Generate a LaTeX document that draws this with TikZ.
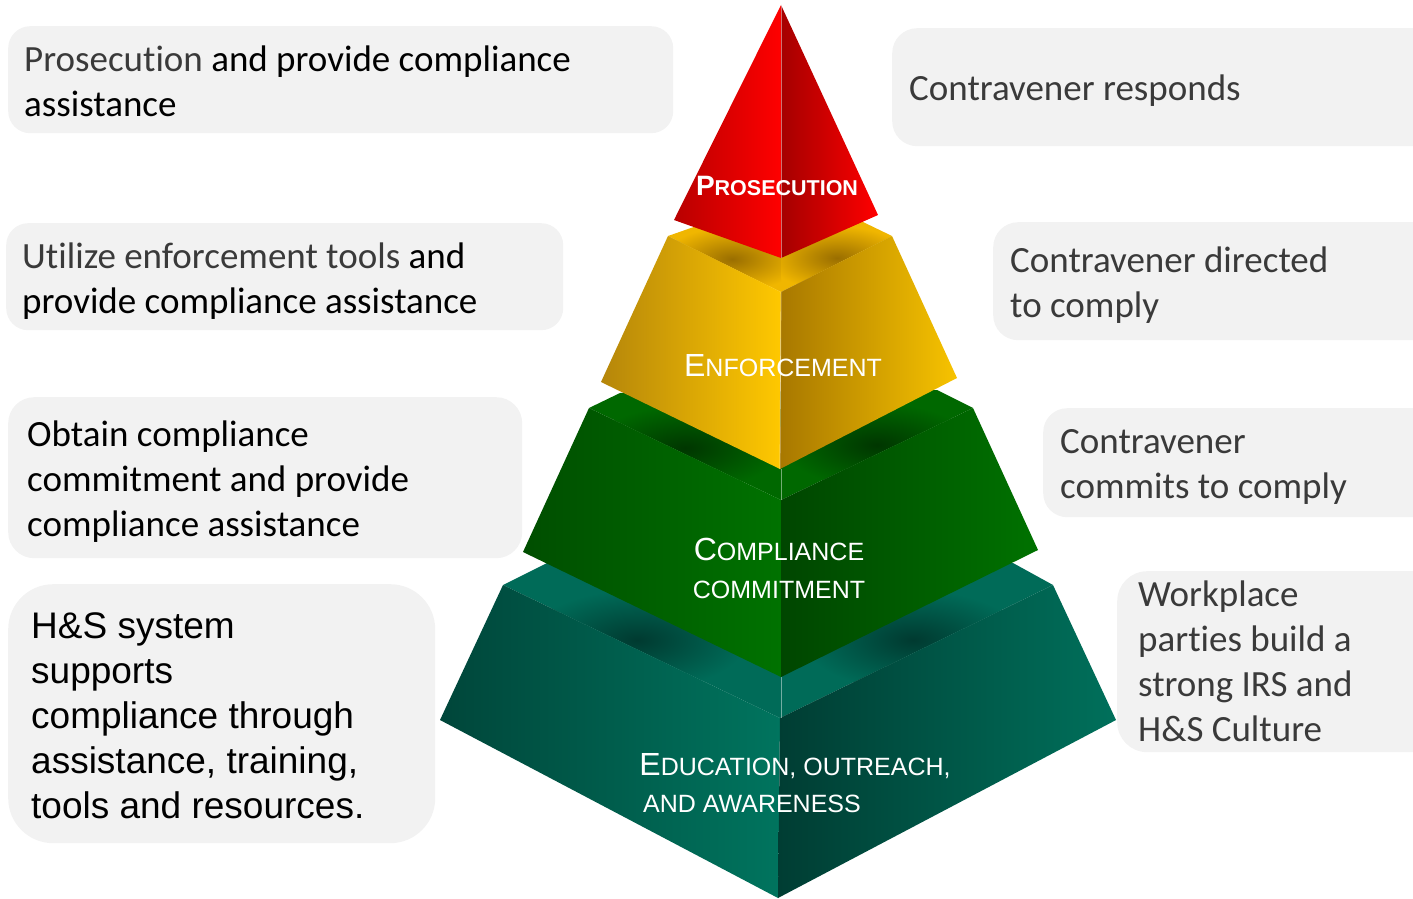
\documentclass[tikz,border=0pt]{standalone}
\usepackage{fontspec}
\setmainfont{Carlito}[Ligatures={NoCommon}]
\newfontfamily\arialf{Liberation Sans}
\definecolor{boxgray}{HTML}{F2F2F2}
\definecolor{txtgray}{HTML}{3A3A3A}
\definecolor{redA}{HTML}{B80000}
\definecolor{redB}{HTML}{FF0000}
\definecolor{redC}{HTML}{A50000}
\definecolor{redD}{HTML}{FF0000}
\definecolor{yelA}{HTML}{B5860A}
\definecolor{yelB}{HTML}{FFC800}
\definecolor{yelC}{HTML}{A87800}
\definecolor{yelD}{HTML}{F7C300}
\definecolor{yelL}{HTML}{F0B600}
\definecolor{yelS}{HTML}{9A6E00}
\definecolor{grnA}{HTML}{004E00}
\definecolor{grnB}{HTML}{007200}
\definecolor{grnC}{HTML}{004600}
\definecolor{grnD}{HTML}{007200}
\definecolor{grnL}{HTML}{006800}
\definecolor{grnS}{HTML}{003600}
\definecolor{tealA}{HTML}{00463A}
\definecolor{tealB}{HTML}{00745E}
\definecolor{tealC}{HTML}{003D33}
\definecolor{tealD}{HTML}{00705B}
\definecolor{tealL}{HTML}{006B58}
\definecolor{tealS}{HTML}{003A30}
\newcommand{\pcap}[2]{{\fontsize{32}{32}\selectfont #1}{\fontsize{25}{25}\selectfont #2}}
\newcommand{\pcapb}[2]{{\fontsize{28}{28}\selectfont #1}{\fontsize{21.5}{21.5}\selectfont #2}}
\begin{document}
\begin{tikzpicture}[x=1pt,y=-1pt,
  boxnode/.style={fill=boxgray, draw=none, anchor=north west, inner sep=0pt},
  boxtext/.style={anchor=base west, align=left, inner sep=0pt, font=\fontsize{37}{45}\selectfont},
  lbl/.style={anchor=base, inner sep=0pt, text=white, font=\arialf},
  ridge/.style={draw=white, draw opacity=0.45, line width=0.8pt}]
\useasboundingbox (0,0) rectangle (1413,899);

% ---------- text boxes ----------
\begin{scope}
\clip (0,0) rectangle (1413,899);
\node[boxnode, rounded corners=22pt, minimum width=665pt, minimum height=107pt] (b1) at (8,26) {};
\node[boxnode, rounded corners=22pt, minimum width=557pt, minimum height=107pt] (b2) at (6,223) {};
\node[boxnode, rounded corners=26pt, minimum width=514pt, minimum height=161pt] (b3) at (8,397) {};
\node[boxnode, rounded corners=45pt, minimum width=427pt, minimum height=259pt] (b4) at (8,584) {};
\node[boxnode, rounded corners=25pt, minimum width=560pt, minimum height=118pt] (b5) at (892,28) {};
\node[boxnode, rounded corners=25pt, minimum width=460pt, minimum height=118pt] (b6) at (993,222) {};
\node[boxnode, rounded corners=24pt, minimum width=410pt, minimum height=109pt] (b7) at (1043,408) {};
\node[boxnode, rounded corners=30pt, minimum width=340pt, minimum height=181pt] (b8) at (1117,571) {};
\end{scope}

% (base anchor = baseline of the last line)
\node[boxtext] (t1) at (24,116) {{\color{txtgray}Prosecution} and provide compliance\\assistance};
\node[boxtext] (t2) at (22,313) {{\color{txtgray}Utilize enforcement tools} and\\provide compliance assistance};
\node[boxtext] (t3) at (27,536) {Obtain compliance\\commitment and provide\\compliance assistance};
\node[boxtext, font=\arialf\fontsize{37}{45}\selectfont] (t4) at (31,818) {H\&S system\\supports\\compliance through\\assistance, training,\\tools and resources.};
\node[boxtext, text=txtgray] (t5) at (909,100) {Contravener responds};
\node[boxtext, text=txtgray] (t6) at (1010,317) {Contravener directed\\to comply};
\node[boxtext, text=txtgray] (t7) at (1060,498) {Contravener\\commits to comply};
\node[boxtext, text=txtgray] (t8) at (1138,741) {Workplace\\parties build a\\strong IRS and\\H\&S Culture};

% ---------- teal tier ----------
\fill[tealL] (503,585) -- (547,563) -- (1013,563) -- (1053,585) -- (780,718) -- cycle;
\begin{scope}
\clip (503,585) -- (547,563) -- (780,563) -- (780,718) -- cycle;
\shade[inner color=tealS, outer color=tealL] (637,640) ellipse [x radius=110, y radius=50];
\end{scope}
\begin{scope}
\clip (780,563) -- (1013,563) -- (1053,585) -- (780,718) -- cycle;
\shade[inner color=tealS, outer color=tealL] (913,640) ellipse [x radius=110, y radius=50];
\end{scope}
\shade[left color=tealA, right color=tealB] (503,585) -- (780,718) -- (778,898) -- (440,720) -- cycle;
\shade[left color=tealC, right color=tealD] (780,718) -- (1053,585) -- (1116,720) -- (778,898) -- cycle;
\draw[ridge] (781,677) -- (781,718);

% ---------- green tier ----------
\fill[grnL] (589,408) -- (620,393) -- (937,390) -- (973,408) -- (781,500) -- cycle;
\begin{scope}
\clip (589,408) -- (620,393) -- (781,393) -- (781,500) -- cycle;
\shade[inner color=grnS, outer color=grnL] (685,448) ellipse [x radius=95, y radius=42];
\end{scope}
\begin{scope}
\clip (781,390) -- (937,390) -- (973,408) -- (781,500) -- cycle;
\shade[inner color=grnS, outer color=grnL] (877,445) ellipse [x radius=95, y radius=42];
\end{scope}
\shade[left color=grnA, right color=grnB] (589,408) -- (781,500) -- (781,677) -- (523,552) -- cycle;
\shade[left color=grnC, right color=grnD] (781,500) -- (973,408) -- (1038,550) -- (781,677) -- cycle;
\draw[ridge] (781,469) -- (781,500);

% ---------- yellow tier ----------
\fill[yelL] (668,236) -- (708,222) -- (863,222) -- (892,236) -- (781,292) -- cycle;
\begin{scope}
\clip (668,236) -- (708,222) -- (781,222) -- (781,292) -- cycle;
\shade[inner color=yelS, outer color=yelL] (732,259) ellipse [x radius=70, y radius=32];
\end{scope}
\begin{scope}
\clip (781,222) -- (863,222) -- (892,236) -- (781,292) -- cycle;
\shade[inner color=yelS, outer color=yelL] (837,258) ellipse [x radius=70, y radius=32];
\end{scope}
\shade[left color=yelA, right color=yelB] (668,236) -- (781,292) -- (780,469) -- (601,382) -- cycle;
\shade[left color=yelC, right color=yelD] (781,292) -- (892,236) -- (957,378) -- (780,469) -- cycle;
\draw[ridge] (781,292) -- (780,469);

% ---------- red top ----------
\shade[left color=redA, right color=redB] (781,5) -- (781,258) -- (674,220) -- cycle;
\shade[left color=redC, right color=redD] (781,5) -- (878,215) -- (781,258) -- cycle;
\draw[ridge] (781,5) -- (781,258);

% ---------- labels ----------
\node[lbl, font=\arialf\bfseries] (lp) at (777,195) {\pcapb{P}{ROSECUTION}};
\node[lbl] (le) at (783,376) {\pcap{E}{NFORCEMENT}};
\node[lbl] (lc1) at (779,560) {\pcap{C}{OMPLIANCE}};
\node[lbl] (lc2) at (779,598) {\pcap{}{COMMITMENT}};
\node[lbl] (ld1) at (795,775) {\pcap{E}{DUCATION, OUTREACH,}};
\node[lbl] (ld2) at (752,812) {\pcap{}{AND AWARENESS}};
\end{tikzpicture}
\end{document}
